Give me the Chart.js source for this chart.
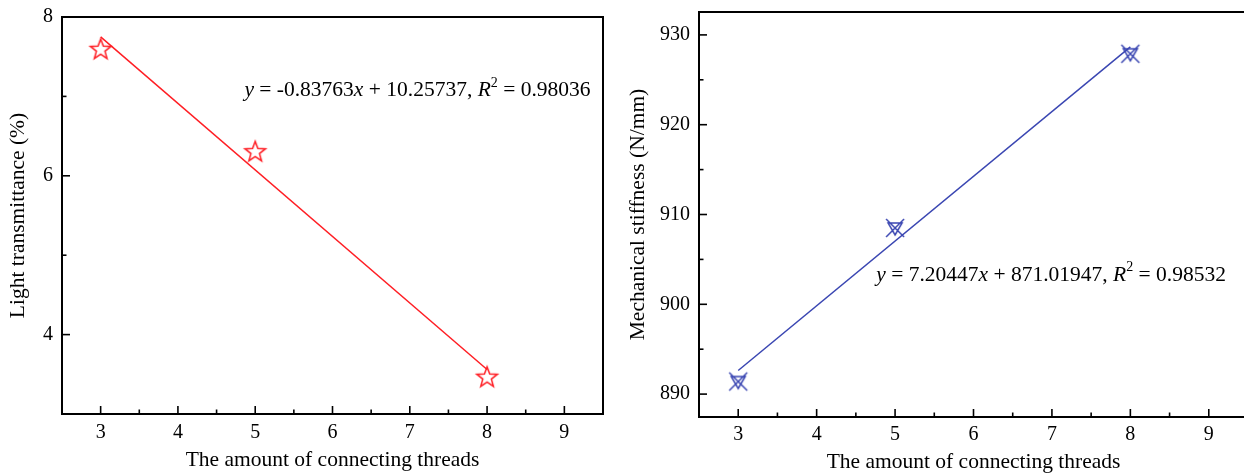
<!DOCTYPE html>
<html>
<head>
<meta charset="utf-8">
<script src="https://cdn.jsdelivr.net/npm/chart.js@4.4.1/dist/chart.umd.min.js"></script>
<style>
    html, body { margin: 0; padding: 0; background: #fff; overflow: hidden; }
    #wrap { position: relative; width: 1244px; height: 475px; overflow: hidden; }
    #leftBox { position: absolute; left: 0; top: 0; }
    #rightBox { position: absolute; left: 620px; top: 0; }
</style>
</head>
<body>
<div id="wrap">
    <div id="leftBox"><canvas id="lightChart" width="620" height="475"></canvas></div>
    <div id="rightBox"><canvas id="stiffChart" width="640" height="475"></canvas></div>
</div>
<script>
/* -------- DATA -------- */
const threads = [3, 5, 8];
const lightValues = [7.6, 6.31, 3.47];
const stiffValues = [891.4, 908.5, 927.9];

const fitX = [3, 8];
const lightFitY = [7.75, 3.56];
const stiffFitY = [892.63, 928.66];

const xTickLabels = [3, 4, 5, 6, 7, 8, 9];
const lightTickLabels = [4, 6, 8];
const stiffTickLabels = [890, 900, 910, 920, 930];

const xTitle = 'The amount of connecting threads';
const lightTitle = 'Light transmittance (%)';
const stiffTitle = 'Mechanical stiffness (N/mm)';

const lightEq = [['y', 1], [' = -0.83763', 0], ['x', 1], [' + 10.25737, ', 0], ['R', 1], ['2', 2], [' = 0.98036', 0]];
const stiffEq = [['y', 1], [' = 7.20447', 0], ['x', 1], [' + 871.01947, ', 0], ['R', 1], ['2', 2], [' = 0.98532', 0]];

const SERIF = "'Liberation Serif', 'Times New Roman', serif";
const RED = '#ff1e24';
const BLUE = '#3a46b2';

function toPoints(xs, ys) {
    return xs.map((x, i) => ({ x: x, y: ys[i] }));
}

/* -------- MARKERS -------- */
function makeStar(color) {
    const c = document.createElement('canvas');
    c.width = 26; c.height = 26;
    const g = c.getContext('2d');
    g.strokeStyle = color;
    g.lineWidth = 1.5;
    g.beginPath();
    for (let i = 0; i < 10; i++) {
        const r = i % 2 ? 4.5 : 10.8;
        const a = -Math.PI / 2 + i * Math.PI / 5;
        const px = 13 + r * Math.cos(a), py = 14 + r * Math.sin(a);
        if (i === 0) g.moveTo(px, py); else g.lineTo(px, py);
    }
    g.closePath();
    g.stroke();
    return c;
}

function makeTriCross(color) {
    const c = document.createElement('canvas');
    c.width = 24; c.height = 24;
    const g = c.getContext('2d');
    g.strokeStyle = color;
    g.lineWidth = 1.5;
    g.beginPath();
    g.moveTo(5, 7); g.lineTo(19, 7); g.lineTo(12, 19); g.closePath();
    g.moveTo(3, 3); g.lineTo(21, 21);
    g.moveTo(21, 3); g.lineTo(3, 21);
    g.stroke();
    return c;
}

/* -------- PLUGINS -------- */
const framePlugin = {
    id: 'frame',
    afterDraw(chart) {
        const { ctx, chartArea: a, scales } = chart;
        ctx.save();
        ctx.strokeStyle = '#000';
        ctx.lineWidth = 2;
        ctx.strokeRect(a.left, a.top, a.right - a.left, a.bottom - a.top);
        ctx.lineWidth = 1.6;
        scales.x.ticks.forEach(t => {
            const px = scales.x.getPixelForValue(t.value);
            if (px < a.left + 2 || px > a.right - 2) return;
            const len = t.label !== '' ? 8 : 4.5;
            ctx.beginPath(); ctx.moveTo(px, a.bottom); ctx.lineTo(px, a.bottom - len); ctx.stroke();
        });
        scales.y.ticks.forEach(t => {
            const py = scales.y.getPixelForValue(t.value);
            if (py < a.top + 2 || py > a.bottom - 2) return;
            const len = t.label !== '' ? 8 : 4.5;
            ctx.beginPath(); ctx.moveTo(a.left, py); ctx.lineTo(a.left + len, py); ctx.stroke();
        });
        ctx.restore();
    }
};

const equationPlugin = {
    id: 'equation',
    afterDraw(chart, args, opts) {
        if (!opts.parts) return;
        const { ctx, scales } = chart;
        let px = scales.x.getPixelForValue(opts.atX);
        const py = scales.y.getPixelForValue(opts.atY);
        ctx.save();
        ctx.fillStyle = '#000';
        ctx.textBaseline = 'middle';
        opts.parts.forEach(([txt, kind]) => {
            if (kind === 2) {
                ctx.font = '14px ' + SERIF;
                ctx.fillText(txt, px, py - 8);
            } else {
                ctx.font = (kind === 1 ? 'italic ' : '') + '21.5px ' + SERIF;
                ctx.fillText(txt, px, py);
            }
            px += ctx.measureText(txt).width;
        });
        ctx.restore();
    }
};

/* -------- CHART BUILDER -------- */
function buildChart(id, cfg) {
    const tickFont = { family: SERIF, size: 20 };
    const titleFont = { family: SERIF, size: 21.5 };
    return new Chart(document.getElementById(id), {
        type: 'scatter',
        data: {
            datasets: cfg.markers.concat([{
                data: toPoints(fitX, cfg.fit),
                showLine: true,
                borderColor: cfg.color,
                borderWidth: 1.5,
                pointRadius: 0
            }])
        },
        options: {
            responsive: false,
            animation: false,
            layout: { padding: cfg.padding },
            plugins: {
                legend: { display: false },
                tooltip: { enabled: false },
                equation: { parts: cfg.eq, atX: cfg.eqX, atY: cfg.eqY }
            },
            scales: {
                x: {
                    type: 'linear',
                    min: 2.5, max: 9.5,
                    afterFit: s => { s.height = cfg.xHeight; s.paddingLeft = 0; s.paddingRight = 0; },
                    grid: { display: false, drawTicks: false },
                    border: { display: false },
                    ticks: {
                        stepSize: 0.5, autoSkip: false, includeBounds: false,
                        padding: cfg.xPad, color: '#000', font: tickFont, maxRotation: 0,
                        callback: v => xTickLabels.includes(v) ? String(v) : ''
                    },
                    title: { display: true, text: xTitle, color: '#000', font: titleFont, padding: { top: 0, bottom: cfg.xTitlePad } }
                },
                y: {
                    min: cfg.yMin, max: cfg.yMax,
                    afterFit: s => { s.width = cfg.yWidth; s.paddingTop = 0; s.paddingBottom = 0; },
                    grid: { display: false, drawTicks: false },
                    border: { display: false },
                    ticks: {
                        stepSize: cfg.yStep, autoSkip: false, includeBounds: false,
                        padding: 9, color: '#000', font: tickFont,
                        callback: v => cfg.yLabels.includes(v) ? String(v) : ''
                    },
                    title: { display: true, text: cfg.yTitle, color: '#000', font: titleFont, padding: { top: 5, bottom: 0 } }
                }
            }
        },
        plugins: [framePlugin, equationPlugin]
    });
}

/* -------- LEFT: LIGHT TRANSMITTANCE -------- */
buildChart('lightChart', {
    color: RED,
    markers: [{
        data: toPoints(threads, lightValues),
        pointStyle: makeStar(RED),
        pointRadius: 10
    }],
    fit: lightFitY,
    padding: { top: 17, right: 17, bottom: 0, left: 0 },
    xHeight: 61, xPad: 7, xTitlePad: 2,
    yWidth: 62, yMin: 3, yMax: 8, yStep: 1,
    yLabels: lightTickLabels, yTitle: lightTitle,
    eq: lightEq, eqX: 4.86, eqY: 7.07
});

/* -------- RIGHT: MECHANICAL STIFFNESS -------- */
buildChart('stiffChart', {
    color: BLUE,
    markers: [{
        data: toPoints(threads, stiffValues),
        pointStyle: makeTriCross(BLUE),
        pointRadius: 10
    }],
    fit: stiffFitY,
    padding: { top: 12, right: 12, bottom: 0, left: 0 },
    xHeight: 58, xPad: 6, xTitlePad: 0,
    yWidth: 79, yMin: 887.45, yMax: 932.55, yStep: 5,
    yLabels: stiffTickLabels, yTitle: stiffTitle,
    eq: stiffEq, eqX: 4.76, eqY: 903.2
});
</script>
</body>
</html>
